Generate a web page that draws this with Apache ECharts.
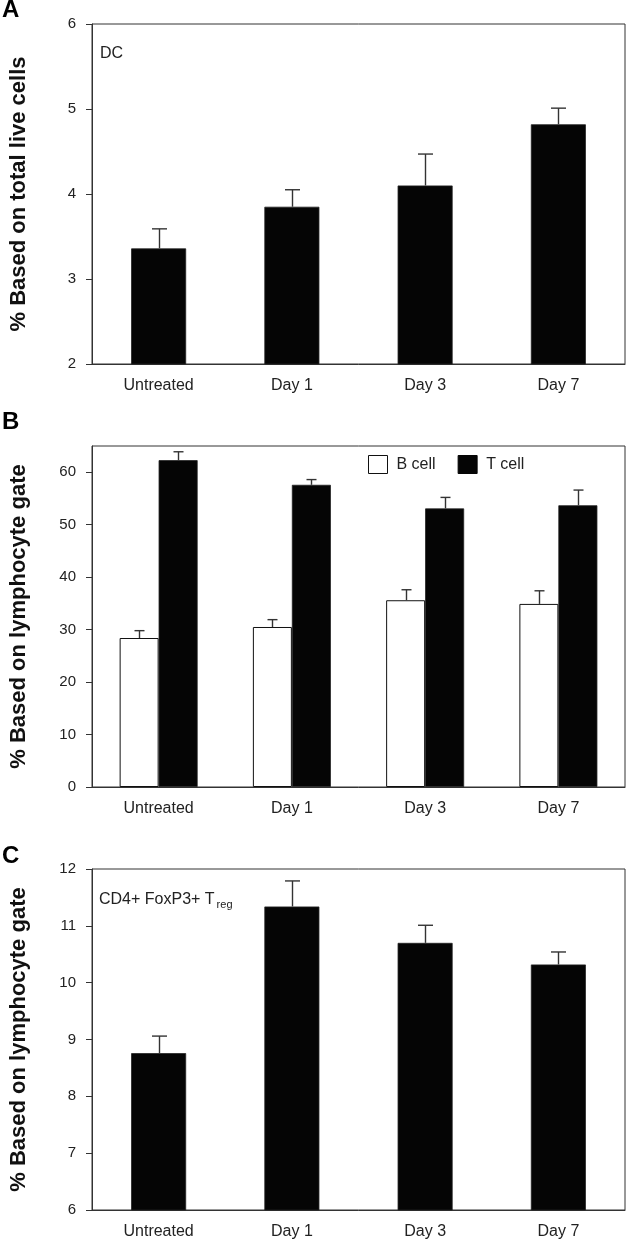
<!DOCTYPE html>
<html>
<head>
<meta charset="utf-8">
<script src="https://cdn.jsdelivr.net/npm/echarts@6/dist/echarts.min.js"></script>
<style>
html,body{margin:0;padding:0;background:#fff;}
#chart{width:626px;height:1241px;}
</style>
</head>
<body>
<div id="chart"></div>
<script>
// ---- data ----
const categories = ['Untreated', 'Day 1', 'Day 3', 'Day 7'];
// Panel A: DC, % of total live cells
const dcMean = [3.36, 3.85, 4.10, 4.82];
const dcErr  = [0.23, 0.20, 0.37, 0.19];
// Panel B: % of lymphocyte gate
const bCellMean = [28.4, 30.5, 35.6, 34.9];
const bCellErr  = [1.4, 1.4, 2.0, 2.5];
const tCellMean = [62.3, 57.6, 53.1, 53.7];
const tCellErr  = [1.6, 1.0, 2.1, 2.9];
// Panel C: CD4+ FoxP3+ Treg, % of lymphocyte gate
const tregMean = [8.76, 11.34, 10.70, 10.32];
const tregErr  = [0.30, 0.45, 0.31, 0.22];
// tick settings
const yTicksA = {min: 2, max: 6, interval: 1};
const yTicksB = {min: 0, max: 65, interval: 10};
const yTicksC = {min: 6, max: 12, interval: 1};

const FONT = '"Liberation Sans", Arial, Helvetica, sans-serif';
const AX = '#333';
const BAR_W = 55;
const BAR_W_B = 39;

function errSeries(xi, yi, mean, err, offset, cap) {
  return {
    type: 'custom', xAxisIndex: xi, yAxisIndex: yi, z: 5, silent: true,
    data: mean.map((m, i) => [i, m, err[i]]),
    encode: {x: 0, y: 1},
    renderItem: function (params, api) {
      const i = api.value(0), m = api.value(1), e = api.value(2);
      const p0 = api.coord([i, m]);
      const p1 = api.coord([i, m + e]);
      const x = Math.round(p0[0] + offset) + 0.5;
      const st = {stroke: '#333', lineWidth: 1.4};
      return {type: 'group', children: [
        {type: 'line', shape: {x1: x, y1: p0[1], x2: x, y2: p1[1]}, style: st},
        {type: 'line', shape: {x1: x - cap / 2, y1: p1[1], x2: x + cap / 2, y2: p1[1]}, style: st}
      ]};
    }
  };
}

function xAx(gi) {
  return {
    type: 'category', gridIndex: gi, data: categories,
    axisLine: {lineStyle: {color: AX, width: 1}},
    axisTick: {show: false},
    axisLabel: {color: '#222', fontSize: 16, fontFamily: FONT, margin: 14}
  };
}
function yAx(gi, t, name) {
  return {
    type: 'value', gridIndex: gi, min: t.min, max: t.max, interval: t.interval,
    name: name, nameLocation: 'middle', nameGap: 62,
    nameTextStyle: {fontSize: 22, fontWeight: 'bold', fontFamily: FONT, color: '#111'},
    axisLine: {show: true, lineStyle: {color: AX, width: 1}},
    axisTick: {show: true, inside: false, length: 6, lineStyle: {color: AX}},
    axisLabel: {color: '#222', fontSize: 15, fontFamily: FONT, margin: 16,
      showMaxLabel: (t.max - t.min) % t.interval === 0},
    splitLine: {show: false}
  };
}

const chart = echarts.init(document.getElementById('chart'), null, {renderer: 'canvas'});
const gridStyle = {show: true, borderColor: AX, borderWidth: 1, backgroundColor: 'transparent', containLabel: false};
const letterStyle = {fontSize: 24, fontWeight: 'bold', fontFamily: FONT, fill: '#000'};

chart.setOption({
  animation: false,
  backgroundColor: '#fff',
  textStyle: {fontFamily: FONT},
  graphic: [
    {type: 'text', left: 2, top: -2, style: Object.assign({text: 'A'}, letterStyle)},
    {type: 'text', left: 2, top: 410, style: Object.assign({text: 'B'}, letterStyle)},
    {type: 'text', left: 2, top: 844, style: Object.assign({text: 'C'}, letterStyle)},
    {type: 'text', left: 100, top: 46, style: {text: 'DC', fontSize: 16, fontFamily: FONT, fill: '#222'}},
    {type: 'text', left: 99, top: 892, style: {
      text: 'CD4+ FoxP3+ T{sub|reg}', fontSize: 16, fontFamily: FONT, fill: '#222',
      rich: {sub: {fontSize: 11, fontFamily: FONT, fill: '#222', verticalAlign: 'bottom', padding: [10, 0, 0, 2]}}
    }}
  ],
  legend: {
    show: true, left: 368, top: 455, padding: 0, itemWidth: 19, itemHeight: 18, itemGap: 22,
    textStyle: {fontSize: 16, fontFamily: FONT, color: '#222', padding: [0, 0, 0, 4]},
    data: [
      {name: 'B cell', icon: 'rect', itemStyle: {color: '#fff', borderColor: '#111', borderWidth: 1}},
      {name: 'T cell', icon: 'rect', itemStyle: {color: '#050505', borderColor: '#050505', borderWidth: 1}}
    ]
  },
  grid: [
    Object.assign({left: 82, top: 24, right: 1, height: 340}, gridStyle),
    Object.assign({left: 82, top: 446, right: 1, height: 341}, gridStyle),
    Object.assign({left: 82, top: 869, right: 1, height: 341}, gridStyle)
  ],
  xAxis: [xAx(0), xAx(1), xAx(2)],
  yAxis: [
    yAx(0, yTicksA, '% Based on total live cells'),
    yAx(1, yTicksB, '% Based on lymphocyte gate'),
    yAx(2, yTicksC, '% Based on lymphocyte gate')
  ],
  series: [
    {name: 'DC', type: 'bar', xAxisIndex: 0, yAxisIndex: 0, data: dcMean, barWidth: BAR_W,
      itemStyle: {color: '#050505', borderColor: '#222', borderWidth: 0.8}},
    errSeries(0, 0, dcMean, dcErr, 0, 15),
    {name: 'B cell', type: 'bar', xAxisIndex: 1, yAxisIndex: 1, data: bCellMean, barWidth: BAR_W_B, barGap: '0%',
      itemStyle: {color: '#fff', borderColor: '#111', borderWidth: 1}},
    {name: 'T cell', type: 'bar', xAxisIndex: 1, yAxisIndex: 1, data: tCellMean, barWidth: BAR_W_B, barGap: '0%',
      itemStyle: {color: '#050505', borderColor: '#222', borderWidth: 0.8}},
    errSeries(1, 1, bCellMean, bCellErr, -BAR_W_B / 2, 10),
    errSeries(1, 1, tCellMean, tCellErr, BAR_W_B / 2, 10),
    {name: 'Treg', type: 'bar', xAxisIndex: 2, yAxisIndex: 2, data: tregMean, barWidth: BAR_W,
      itemStyle: {color: '#050505', borderColor: '#222', borderWidth: 0.8}},
    errSeries(2, 2, tregMean, tregErr, 0, 15)
  ]
});
</script>
</body>
</html>
